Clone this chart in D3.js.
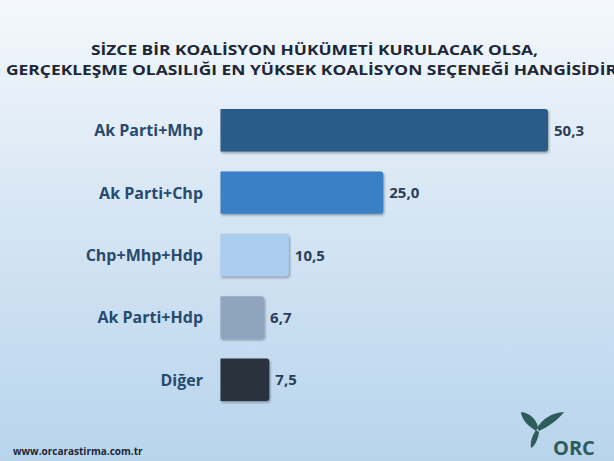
<!DOCTYPE html>
<html><head><meta charset="utf-8">
<script src="https://cdn.jsdelivr.net/npm/d3@7"></script>
<style>html,body{margin:0;padding:0;overflow:hidden;}svg{display:block;}</style>
</head><body>
<script>
const categories = ["Ak Parti+Mhp","Ak Parti+Chp","Chp+Mhp+Hdp","Ak Parti+Hdp","Diğer"];
const values = [50.3, 25.0, 10.5, 6.7, 7.5];
const valueLabels = ["50,3","25,0","10,5","6,7","7,5"];
const barColors = ["#2a5b89","#3a80c6","#aacdf0","#8fa4be","#2c333e"];
const titleLines = ["SİZCE BİR KOALİSYON HÜKÜMETİ KURULACAK OLSA,","GERÇEKLEŞME OLASILIĞI EN YÜKSEK KOALİSYON SEÇENEĞİ HANGİSİDİR"];
const footer = "www.orcarastirma.com.tr";

const W=614,H=461;
const svg=d3.select("body").append("svg").attr("width",W).attr("height",H);
const defs=svg.append("defs");
const g=defs.append("linearGradient").attr("id","bg").attr("x1",0).attr("y1",0).attr("x2",0).attr("y2",1);
g.append("stop").attr("offset","0%").attr("stop-color","#f4f8fc");
g.append("stop").attr("offset","45%").attr("stop-color","#d7e6f4");
g.append("stop").attr("offset","100%").attr("stop-color","#b8d4ed");
const f=defs.append("filter").attr("id","sh").attr("x","-5%").attr("y","-10%").attr("width","115%").attr("height","130%");
f.append("feDropShadow").attr("dx",1).attr("dy",1.5).attr("stdDeviation",1).attr("flood-color","#203040").attr("flood-opacity",0.45);
svg.append("rect").attr("width",W).attr("height",H).attr("fill","url(#bg)");

const font="'Open Sans', 'DejaVu Sans', sans-serif";
// Title
svg.append("text").attr("x",91).attr("y",54.5).attr("text-anchor","start")
  .attr("textLength",447).attr("lengthAdjust","spacingAndGlyphs")
  .attr("font-family",font).attr("font-weight",700).attr("font-size",15).attr("fill","#1d2735").text(titleLines[0]);
svg.append("text").attr("x",6).attr("y",75).attr("text-anchor","start")
  .attr("textLength",611).attr("lengthAdjust","spacingAndGlyphs")
  .attr("font-family",font).attr("font-weight",700).attr("font-size",15).attr("fill","#1d2735").text(titleLines[1]);

const x=d3.scaleLinear().domain([0,50.3]).range([220.5,548]);
const y=d3.scaleBand().domain(categories).range([99,411]).paddingInner(0.32).paddingOuter(0.16);

const bars=svg.append("g");
bars.selectAll("path").data(categories).join("path")
  .attr("d",(c,i)=>{
    const x0=x(0),x1=x(values[i]),y0=y(c),h=y.bandwidth(),r=3;
    return `M${x0},${y0}H${x1-r}Q${x1},${y0} ${x1},${y0+r}V${y0+h-r}Q${x1},${y0+h} ${x1-r},${y0+h}H${x0}Z`;
  })
  .attr("fill",(c,i)=>barColors[i]).attr("filter","url(#sh)");

svg.append("g").selectAll("text").data(categories).join("text")
  .attr("x",203).attr("y",c=>y(c)+y.bandwidth()/2+6).attr("text-anchor","end")
  .attr("font-family",font).attr("font-weight",700).attr("font-size",16).attr("fill","#274a6d").text(c=>c);

svg.append("g").selectAll("text").data(categories).join("text")
  .attr("x",(c,i)=>x(values[i])+6).attr("y",c=>y(c)+y.bandwidth()/2+5.5)
  .attr("font-family",font).attr("font-weight",700).attr("font-size",15).attr("fill","#2a3e57").text((c,i)=>valueLabels[i]);

// footer
svg.append("text").attr("x",13).attr("y",455).attr("font-family",font).attr("font-weight",700)
  .attr("font-size",10).attr("fill","#1d2735").text(footer);

// logo
const lg=svg.append("g").attr("fill","#2e5b5c");
lg.append("path").attr("d","M536,431 C528,426 522,420 521,412 C530,413 536,419 538,427 Z");
lg.append("path").attr("d","M537,428 C543,418 552,413 564,412 C558,420 548,427 539,431 Z");
lg.append("path").attr("d","M536,430 C532,436 530,442 531,448 C534,447 538,440 539,432 Z");
lg.append("text").attr("x",553).attr("y",455).attr("font-family",font).attr("font-weight",700)
  .attr("font-size",20).attr("fill","#2e5b5c").text("ORC");
</script>
</body></html>
